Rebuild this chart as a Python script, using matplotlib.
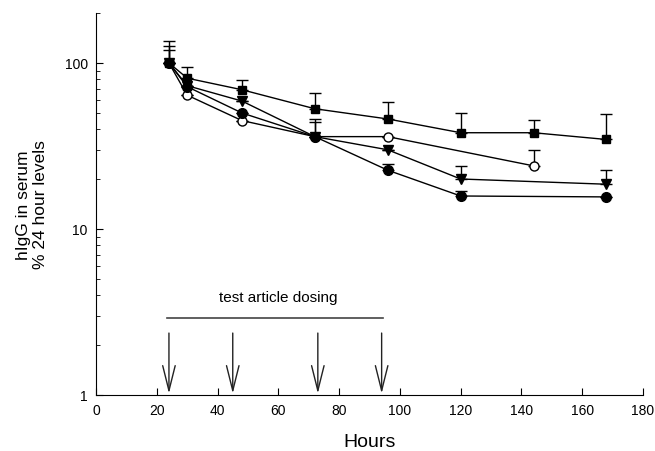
import matplotlib
matplotlib.use("Agg")
import matplotlib.pyplot as plt

plt.rcParams['font.family'] = ['Liberation Sans', 'DejaVu Sans']

# sample times (hours)
hours = [24, 30, 48, 72, 96, 120, 144, 168]
hours_open = [24, 30, 48, 72, 96, 144]

# % of 24 hour levels, one list per group
sq_val = [100, 81, 69, 53, 46, 38, 38, 34.6]
sq_err = [35, 13, 10, 13, 12, 12, 7.6, 14.4]
oc_val = [100, 64, 45, 36, 36, 24]
oc_err = [26, 0, 0, 10, 0, 6]
tri_val = [100, 73, 59, 36, 30, 20, 18.6]
tri_err = [20, 0, 0, 8, 0, 4, 4.2]
tri_hours = [24, 30, 48, 72, 96, 120, 168]
fc_val = [100, 72, 50, 36, 22.6, 15.8, 15.6]
fc_err = [0, 0, 0, 0, 2, 1.2, 0]
fc_hours = [24, 30, 48, 72, 96, 120, 168]

dose_hours = [24, 45, 73, 94]

fig = plt.figure(figsize=(6.55, 4.52), dpi=100)
ax = fig.add_axes([0.1466, 0.124, 0.835, 0.845])

def series(x, y, e, marker, face, ms):
    ax.errorbar(x, y, yerr=[[0]*len(e), e], fmt='-', color='black', lw=1,
                elinewidth=1, capsize=4, capthick=1, marker=marker,
                mfc=face, mec='black', ms=ms, mew=1, zorder=3)

series(hours, sq_val, sq_err, 's', 'black', 6)
series(hours_open, oc_val, oc_err, 'o', 'white', 6.5)
series(tri_hours, tri_val, tri_err, 'v', 'black', 7)
series(fc_hours, fc_val, fc_err, 'o', 'black', 7)

# dosing bar and arrows
ax.plot([23.3, 94.3], [2.9, 2.9], color='#444444', lw=1.2)
ax.text(60, 3.9, 'test article dosing', ha='center', va='center', fontsize=11)
for d in dose_hours:
    ax.annotate('', xy=(d, 1.02), xytext=(d, 2.36),
                arrowprops=dict(arrowstyle='->,head_length=1.8,head_width=0.45',
                                color='#222222', lw=1, shrinkA=0, shrinkB=0))

ax.set_yscale('log')
ax.set_ylim(1, 200)
ax.set_xlim(0, 180)
ax.set_xticks(range(0, 181, 20))
ax.set_yticks([1, 10, 100])
ax.set_yticklabels(['1', '10', '100'])
ax.spines['top'].set_visible(False)
ax.spines['right'].set_visible(False)
ax.tick_params(direction='in', length=5, labelsize=10, pad=6)
ax.tick_params(which='minor', direction='in', length=3)
ax.set_xlabel('Hours', fontsize=14)
ax.set_ylabel('hIgG in serum\n% 24 hour levels', fontsize=12.5, linespacing=1.15)
ax.xaxis.set_label_coords(0.5, -0.1)
ax.yaxis.set_label_coords(-0.088, 0.5)

plt.savefig('out.png', dpi=100)
